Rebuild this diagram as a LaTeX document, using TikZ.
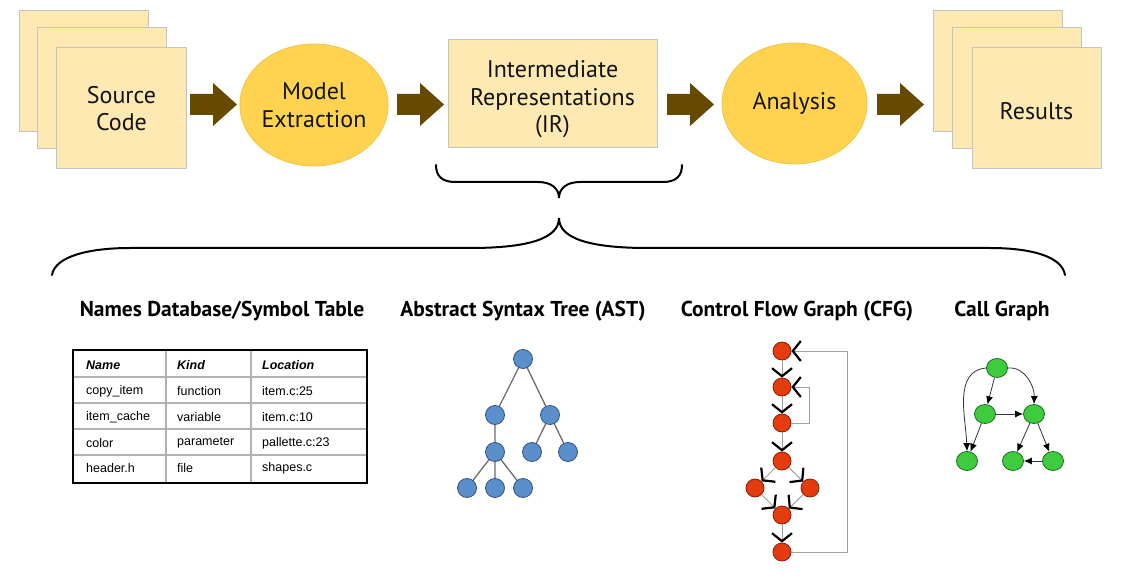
\documentclass[tikz,border=0pt]{standalone}
\usepackage{fontspec}
\setmainfont{PT Sans}
\newfontfamily\tabfont{Liberation Sans}
\usetikzlibrary{shapes.geometric,arrows.meta}
\definecolor{docfill}{HTML}{FFE9B2}
\definecolor{docline}{HTML}{C4C4C4}
\definecolor{ellfill}{HTML}{FFD24F}
\definecolor{ellline}{HTML}{F2C445}
\definecolor{arrowbrown}{HTML}{654A00}
\definecolor{astfill}{HTML}{5B8FCB}
\definecolor{astline}{HTML}{2F5482}
\definecolor{cfgfill}{HTML}{E43C0E}
\definecolor{cfgline}{HTML}{8C1C00}
\definecolor{cgfill}{HTML}{3ECB3E}
\definecolor{cgline}{HTML}{1E6A1E}
\tikzset{
  doc/.style={draw=docline, fill=docfill, line width=1bp, minimum width=129bp, minimum height=121bp, inner sep=0pt},
  irbox/.style={draw=docline, fill=docfill, line width=1bp, minimum width=209bp, minimum height=108bp, inner sep=0pt},
  ell/.style={ellipse, draw=ellline, fill=ellfill, line width=0.8bp, inner sep=0pt, align=center},
  toptext/.style={font=\fontsize{24bp}{27.5bp}\selectfont, text=black!92},
  title/.style={font=\bfseries\fontsize{21.5bp}{24bp}\selectfont},
  blockarrow/.style={fill=arrowbrown},
  bracestyle/.style={line width=2bp, line cap=round},
  cell/.style={font=\tabfont\fontsize{12.5bp}{14bp}\selectfont, anchor=west, inner sep=0pt},
  hcell/.style={cell, font=\tabfont\bfseries\itshape\fontsize{12.5bp}{14bp}\selectfont},
  astnode/.style={circle, draw=astline, fill=astfill, line width=0.8bp, minimum size=19bp, inner sep=0pt},
  astedge/.style={draw=gray!85!black, line width=1.3bp},
  cfgnode/.style={circle, draw=cfgline, fill=cfgfill, line width=0.8bp, minimum size=18bp, inner sep=0pt},
  cfgedge/.style={draw=gray!75, line width=1bp, -{Straight Barb[length=8bp,width=20bp,line width=2.2bp,color=black]}},
  cgnode/.style={ellipse, draw=cgline, fill=cgfill, line width=0.8bp, minimum width=21bp, minimum height=19bp, inner sep=0pt},
  cgedge/.style={draw=gray!40!black, line width=0.8bp, -{Latex[length=8bp,width=7bp,color=black]}},
}
\begin{document}
\begin{tikzpicture}[x=1bp, y=-1bp]
\useasboundingbox (0,0) rectangle (1136,587);

% ---- Source code stack
\node[doc] (src3) at (84,71) {};
\node[doc] (src2) at (102,88) {};
\node[doc, toptext, align=center, text depth=-2bp] (src) at (121.5,108.5) {Source\\Code};

% ---- Model extraction
\node[ell, minimum width=146bp, minimum height=122bp, toptext] (model) at (314,105) {Model\\Extraction};

% ---- IR
\node[irbox] (ir) at (552.5,94) {};
\node[toptext, align=center] (irtext) at (552.5,99.5) {Intermediate\\Representations\\(IR)};

% ---- Analysis
\node[ell, minimum width=145bp, minimum height=121bp, toptext] (analysis) at (794.5,103.5) {Analysis};

% ---- Results stack
\node[doc] (res3) at (997.5,71) {};
\node[doc] (res2) at (1017,88) {};
\node[doc] (res) at (1036.5,108.5) {};
\node[toptext] (restext) at (1036.5,111) {Results};

% ---- Block arrows
\newcommand{\blockarr}[1]{%
  \fill[blockarrow] (#1,94) -- (#1+23,94) -- (#1+23,83) -- (#1+47,104.5) -- (#1+23,126) -- (#1+23,115) -- (#1,115) -- cycle;}
\blockarr{190}
\blockarr{397}
\blockarr{667}
\blockarr{877}

% ---- Braces
\draw[bracestyle] (436,165) .. controls (436,176) and (442,182) .. (455,182) -- (538,182)
   .. controls (552,182) and (559,189) .. (559,198)
   .. controls (559,189) and (566,182) .. (580,182) -- (663,182)
   .. controls (676,182) and (682,176) .. (682,165);
\draw[bracestyle] (52,275) .. controls (55,256) and (90,248) .. (130,248) -- (470,248)
   .. controls (530,248) and (559,238) .. (559,218)
   .. controls (559,238) and (588,248) .. (648,248) -- (990,248)
   .. controls (1030,248) and (1062,256) .. (1065,275);

% ---- Titles
\node[title] (t1) at (222,311) {Names Database/Symbol Table};
\node[title] (t2) at (523,311) {Abstract Syntax Tree (AST)};
\node[title] (t3) at (797,311) {Control Flow Graph (CFG)};
\node[title] (t4) at (1002,311) {Call Graph};

% ---- Table
\draw[gray!60, line width=1.2bp] (73,377) -- (367,377) (73,403) -- (367,403) (73,429) -- (367,429) (73,455) -- (367,455)
  (166,350) -- (166,483) (251,350) -- (251,483);
\draw[black, line width=2.2bp] (73,350) rectangle (367,483);
\node[hcell] (h1) at (86,365) {Name};
\node[hcell] (h2) at (177,365) {Kind};
\node[hcell] (h3) at (262,365) {Location};
\node[cell] (r1a) at (86,391) {copy\_item};
\node[cell] (r1b) at (177,391) {function};
\node[cell] (r1c) at (262,391) {item.c:25};
\node[cell] (r2a) at (86,417) {item\_cache};
\node[cell] (r2b) at (177,417) {variable};
\node[cell] (r2c) at (262,417) {item.c:10};
\node[cell] (r3a) at (86,443) {color};
\node[cell] (r3b) at (177,443) {parameter};
\node[cell] (r3c) at (262,443) {pallette.c:23};
\node[cell] (r4a) at (86,468) {header.h};
\node[cell] (r4b) at (177,468) {file};
\node[cell] (r4c) at (262,468) {shapes.c};

% ---- AST
\coordinate (a0) at (523,359);
\coordinate (a1) at (495,415);
\coordinate (a2) at (550,415);
\coordinate (a3) at (495,452);
\coordinate (a4) at (532,452);
\coordinate (a5) at (568,452);
\coordinate (a6) at (467,488);
\coordinate (a7) at (495,488);
\coordinate (a8) at (523,488);
\path[astedge] (a0) -- (a1) (a0) -- (a2) (a1) -- (a3) (a2) -- (a4) (a2) -- (a5) (a3) -- (a6) (a3) -- (a7) (a3) -- (a8);
\foreach \n in {a0,a1,a2,a3,a4,a5,a6,a7,a8} {\node[astnode] (n\n) at (\n) {};}

% ---- CFG
\node[cfgnode] (c1) at (782,351) {};
\node[cfgnode] (c2) at (782,387) {};
\node[cfgnode] (c3) at (782,423) {};
\node[cfgnode] (c4) at (782,461) {};
\node[cfgnode] (c5) at (755,488) {};
\node[cfgnode] (c6) at (810,488) {};
\node[cfgnode] (c7) at (782,515) {};
\node[cfgnode] (c8) at (782,552) {};
\path[cfgedge] (c1) -- (c2);
\path[cfgedge] (c2) -- (c3);
\path[cfgedge] (c3) -- (c4);
\path[cfgedge] (c4) -- (c5);
\path[cfgedge] (c4) -- (c6);
\path[cfgedge] (c5) -- (c7);
\path[cfgedge] (c6) -- (c7);
\path[cfgedge] (c7) -- (c8);
\path[cfgedge] (c3.east) -- ++(18,0) |- (c2.east);
\path[cfgedge] (c8.east) -- ++(56,0) |- (c1.east);

% ---- Call graph
\node[cgnode] (g0) at (997,368) {};
\node[cgnode] (g1) at (985,414) {};
\node[cgnode] (g2) at (1034,414) {};
\node[cgnode] (g3) at (967,461) {};
\node[cgnode] (g4) at (1013,461) {};
\node[cgnode] (g5) at (1053,461) {};
\path[cgedge] (g0) -- (g1);
\path[cgedge] (g1) -- (g2);
\path[cgedge] (g1) -- (g3);
\path[cgedge] (g2) -- (g4);
\path[cgedge] (g2) -- (g5);
\path[cgedge] (g5) -- (g4);
\path[cgedge] (g0.west) to[out=185, in=92] (g3.north);
\path[cgedge] (g0.east) to[out=5, in=88] (g2.north);
\end{tikzpicture}
\end{document}
